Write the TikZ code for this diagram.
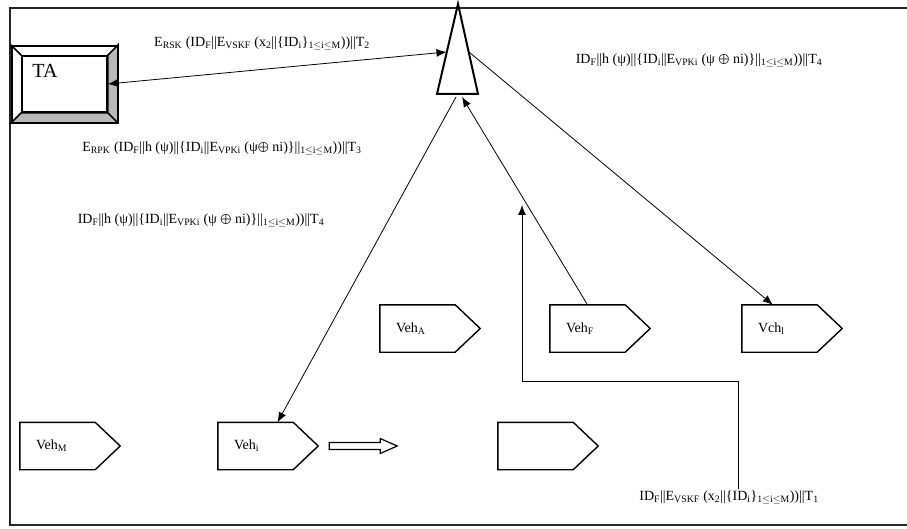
\documentclass[tikz,border=0pt]{standalone}
\usepackage{fontspec}
\setmainfont{Liberation Serif}
\usetikzlibrary{arrows.meta,calc,positioning}

\newcommand{\sbs}[1]{\textsubscript{#1}}
\newcommand{\rng}{\sbs{1$\leq$i$\leq$M}}
\newcommand{\xor}{\raisebox{-0.5pt}{$\bigoplus$}}

\begin{document}
\begin{tikzpicture}[x=1pt,y=-1pt,
every node/.style={font=\fontsize{14}{16}\selectfont},
msg/.style={inner sep=0},
vehicle/.style={minimum width=75pt,minimum height=47pt,
  inner xsep=16pt,inner ysep=0,text width=43pt,align=left},
carline/.style={line width=1.4pt,line join=miter},
tabox/.style={draw,line width=2pt,minimum width=105pt,
  minimum height=76pt,inner sep=0},
link/.style={line width=0.8pt},
>={Latex[length=10pt,width=8pt]}]

\useasboundingbox (0,0) rectangle (907,529);
\draw[line width=1.8pt,black!85] (10,8) rectangle (915,525);

% trusted authority
\node[tabox] (ta) at (64.5,84) {};
\node[tabox,line width=1.6pt,minimum width=85pt,minimum height=56pt] (tain) at (ta.center) {};
\filldraw[fill=gray!55,line width=1.6pt,line join=miter]
  (ta.north east) -- (tain.north east) -- (tain.south east) -- (tain.south west)
  -- (ta.south west) -- (ta.south east) -- cycle;
\draw[line width=1.6pt] (ta.north west) -- (tain.north west)
  (tain.south east) -- (ta.south east);
\node[anchor=north west,inner sep=0,font=\fontsize{20}{22}\selectfont] (talbl)
  at ($(tain.north west)+(11,9)$) {TA};

% roadside unit
\draw[line width=2pt,line join=miter] (458,4) -- (478,94) -- (437,94) -- cycle;
\coordinate (antL) at (446.5,52);
\coordinate (antR) at (469,52);
\coordinate (antB) at (456,97);
\coordinate (antF) at (462,97);
\coordinate (rsu) at (522,205);

% vehicles
\node[vehicle] (veha) at (417.5,328.5) {Veh\sbs{A}};
\node[vehicle] (vehf) at (587.5,328.5) {Veh\sbs{F}};
\node[vehicle] (vchl) at (779.5,328.5) {Vch\sbs{l}};
\node[vehicle] (vehm) at (57.5,446) {Veh\sbs{M}};
\node[vehicle] (vehi) at (255.5,446) {Veh\sbs{i}};
\node[vehicle] (vehx) at (535.5,446) {};
\foreach \v in {veha,vehf,vchl,vehm,vehi,vehx}
  \draw[carline] (\v.north west) -- (\v.north east) -- ([xshift=25pt]\v.east)
    -- (\v.south east) -- (\v.south west) -- cycle;

% moving direction
\draw[line width=1.2pt,fill=white,line join=miter]
  ([xshift=36pt]vehi.east) ++(0,-3.5) -- ++(51,0) -- ++(0,-4) -- ++(17,7.5)
  -- ++(-17,7.5) -- ++(0,-4) -- ++(-51,0) -- cycle;

% messages
\node[msg] (mtwo) at (262,43)
  {E\sbs{RSK} (ID\sbs{F}||E\sbs{VSKF} (x\sbs{2}||\{ID\sbs{i}\}\rng))||T\sbs{2}};
\node[msg] (mfourr) at (699,60)
  {ID\sbs{F}||h (ψ)||\{ID\sbs{i}||E\sbs{VPKi} (ψ \xor{} ni)\}||\rng))||T\sbs{4}};
\node[msg] (mthree) at (222,148)
  {E\sbs{RPK} (ID\sbs{F}||h (ψ)||\{ID\sbs{i}||E\sbs{VPKi} (ψ\xor{} ni)\}||\rng))||T\sbs{3}};
\node[msg] (mfourl) at (201,220)
  {ID\sbs{F}||h (ψ)||\{ID\sbs{i}||E\sbs{VPKi} (ψ \xor{} ni)\}||\rng))||T\sbs{4}};
\node[msg] (mone) at (729,497)
  {ID\sbs{F}||E\sbs{VSKF} (x\sbs{2}||\{ID\sbs{i}\}\rng))||T\sbs{1}};

% links
\draw[link,<->] (tain.east) -- (antL);
\draw[link,->] (antR) -- ($(vchl.north west)+(31,0)$);
\draw[link,->] (antB) -- ($(vehi.north)+(22,0)$);
\draw[link,->] (vehf.north) -- (antF);
\draw[link,->] ($(mone.north)+(9,-1)$) -- ++(0,-108) -| (rsu);
\end{tikzpicture}
\end{document}
